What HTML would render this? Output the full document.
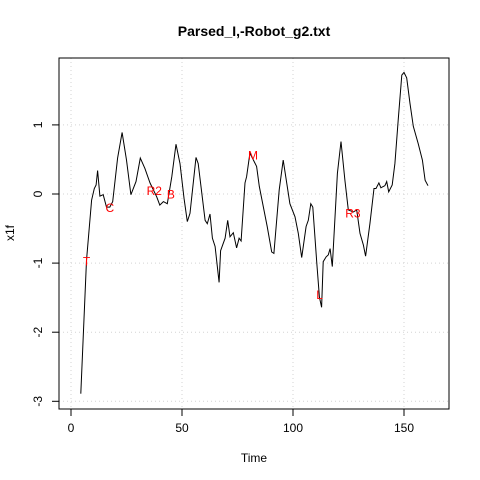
<!DOCTYPE html>
<html><head><meta charset="utf-8"><style>body{margin:0;background:#fff}svg{display:block;font-family:"Liberation Sans",sans-serif}</style></head>
<body>
<svg id="chart" width="480" height="480" viewBox="0 0 480 480">
<text x="254" y="36" text-anchor="middle" font-size="14" font-weight="bold">Parsed_I,-Robot_g2.txt</text>
<text x="254" y="462" text-anchor="middle" font-size="12">Time</text>
<text x="0" y="0" transform="translate(14,233) rotate(-90)" text-anchor="middle" font-size="12">x1f</text>
<g id="grid"></g><g id="axes"></g><g id="series"></g><g id="labels"></g>
<rect x="59" y="58" width="390" height="351" fill="none" stroke="#000"/>
</svg>
<script>
const times=[4.4,7,9.3,10.5,11.3,12,13,14.5,16,17.5,18.8,21,23,25,27,29.3,31.2,33.3,35.6,38.6,40,41.6,43.4,45.4,47.3,49.1,50.9,52.4,53.6,56.3,57.3,60.4,61.4,62.6,63.7,64.9,66.7,67.4,69.4,70.6,71.6,73.1,74.6,75.7,76.6,78.4,79.1,80.6,83.6,84.8,88.4,90.4,91.4,93.8,95.6,98.6,100.9,102.4,103.9,105.9,106.9,108,108.9,110.7,111.9,112.9,113.6,114.9,115.9,116.7,117.7,120,121.6,123.4,124.9,127.2,128.7,130.2,131.7,132.7,134.7,136.5,137.4,138.7,139.6,141.4,142.2,143.1,144.7,145.9,147.4,149,150,151.2,152.7,154.2,156.4,158.3,159.5,160.8];
const values=[-2.89,-0.96,-0.09,0.08,0.13,0.34,-0.03,-0.01,-0.19,-0.19,-0.11,0.52,0.89,0.49,-0.01,0.18,0.52,0.37,0.16,-0.04,-0.16,-0.11,-0.14,0.25,0.72,0.44,-0.06,-0.4,-0.28,0.53,0.44,-0.38,-0.43,-0.29,-0.64,-0.76,-1.28,-0.82,-0.64,-0.38,-0.62,-0.56,-0.78,-0.64,-0.68,0.16,0.25,0.59,0.4,0.11,-0.47,-0.84,-0.86,0.06,0.49,-0.14,-0.33,-0.57,-0.92,-0.47,-0.38,-0.14,-0.19,-1.0,-1.49,-1.64,-0.98,-0.91,-0.88,-0.79,-1.05,0.3,0.76,0.2,-0.23,-0.26,-0.23,-0.57,-0.74,-0.9,-0.42,0.08,0.08,0.16,0.09,0.12,0.18,0.03,0.13,0.44,1.07,1.72,1.76,1.68,1.31,0.98,0.73,0.49,0.2,0.12];
const labelText=["T","C","R2","B","M","L","R3"];
const labelT=[7,17.5,37.5,45,82,112,127];
const labelV=[-0.96,-0.19,0.06,0.01,0.57,-1.45,-0.27];
const xTicks=[0,50,100,150];
const yTicks=[-3,-2,-1,0,1];
const NS="http://www.w3.org/2000/svg";
const xs=t=>71+t*2.22;
const ys=v=>194-v*69.1;
function mk(tag,attrs,parent){const e=document.createElementNS(NS,tag);for(const k in attrs)e.setAttribute(k,attrs[k]);parent.appendChild(e);return e;}
const grid=document.getElementById('grid'),axes=document.getElementById('axes');
xTicks.forEach(t=>{
 const g=mk('line',{x1:xs(t),x2:xs(t),y1:58,y2:409,stroke:'#d3d3d3','stroke-dasharray':'1,3'},grid);
 
 
 const tk=mk('line',{x1:xs(t),x2:xs(t),y1:409,y2:416,stroke:'#000'},axes);
 
 
 const tx=mk('text',{x:xs(t),y:432,'text-anchor':'middle','font-size':12},axes);
 tx.textContent=t;
 
 
});
yTicks.forEach(v=>{
 const g=mk('line',{x1:59,x2:449,y1:ys(v),y2:ys(v),stroke:'#d3d3d3','stroke-dasharray':'1,3'},grid);
 
 
 const tk=mk('line',{x1:52,x2:59,y1:ys(v),y2:ys(v),stroke:'#000'},axes);
 
 
 const tx=mk('text',{x:0,y:0,transform:`translate(42,${ys(v)}) rotate(-90)`,'text-anchor':'middle','font-size':12},axes);
 tx.textContent=v;
 
 
});
const d=times.map((t,i)=>(i?'L':'M')+xs(t).toFixed(1)+','+ys(values[i]).toFixed(1)).join(' ');
const p=mk('path',{d:d,fill:'none',stroke:'#000','stroke-width':1},document.getElementById('series'));


labelText.forEach((s,i)=>{
 const tx=mk('text',{x:xs(labelT[i]),y:ys(labelV[i])+5,'text-anchor':'middle','font-size':12,fill:'#f00'},document.getElementById('labels'));
 tx.textContent=s;
 
 
});
</script>
</body></html>
